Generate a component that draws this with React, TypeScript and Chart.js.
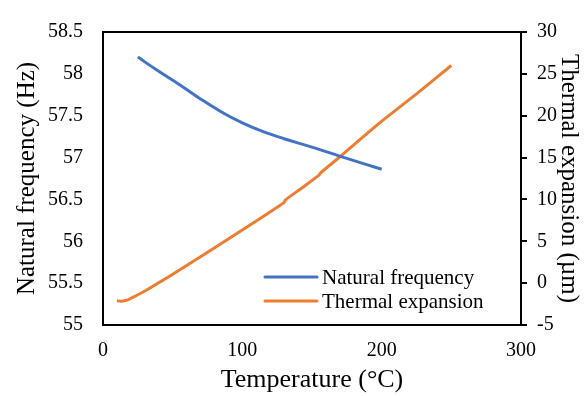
import React, { useEffect, useRef } from "react";
import { Chart, registerables } from "chart.js";

Chart.register(...registerables);

const freqTemps = [25, 40, 55, 70, 85, 100, 115, 130, 150, 175, 200];
const freqValues = [58.2, 58.03, 57.87, 57.7, 57.545, 57.415, 57.31, 57.225, 57.125, 56.99, 56.86];

const expTemps = [10, 13, 16, 19, 22, 26, 31, 38, 46, 70, 93, 118, 130, 131, 143, 155, 156, 169, 199, 225, 250];
const expValues = [-2.1, -2.15, -2.08, -1.9, -1.65, -1.3, -0.85, -0.15, 0.65, 3.15, 5.6, 8.3, 9.65, 9.95, 11.4, 12.9, 13.15, 14.95, 19.2, 22.6, 26.0];

const xTicks = [0, 100, 200, 300];
const leftTicks = [55, 55.5, 56, 56.5, 57, 57.5, 58, 58.5];
const rightTicks = [-5, 0, 5, 10, 15, 20, 25, 30];

const FONT = "'Liberation Serif', 'Times New Roman', serif";
const BLUE = "#4472C4";
const ORANGE = "#ED7D31";

const frame = {
  id: "frame",
  afterDatasetsDraw(chart: any) {
    const { ctx, chartArea } = chart;
    ctx.save();
    ctx.strokeStyle = "#000";
    ctx.lineWidth = 2;
    ctx.strokeRect(chartArea.left, chartArea.top, chartArea.right - chartArea.left, chartArea.bottom - chartArea.top);
    ctx.restore();
  },
};

const legendInside = {
  id: "legendInside",
  afterDraw(chart: any) {
    const { ctx } = chart;
    const rows = [277, 301];
    ctx.save();
    ctx.font = `21px ${FONT}`;
    ctx.textBaseline = "middle";
    ctx.textAlign = "left";
    chart.data.datasets.forEach((ds: any, i: number) => {
      const y = rows[i];
      ctx.strokeStyle = ds.borderColor;
      ctx.lineWidth = 3;
      ctx.lineCap = "round";
      ctx.beginPath();
      ctx.moveTo(265, y);
      ctx.lineTo(317, y);
      ctx.stroke();
      ctx.fillStyle = "#000";
      ctx.fillText(ds.label, 322, y + 1);
    });
    ctx.restore();
  },
};

const fmt = (v: any) => String(v);

export default function App() {
  const ref = useRef<HTMLCanvasElement>(null);
  useEffect(() => {
    document.body.style.margin = "0";
    const c = new Chart(ref.current!, {
      type: "line",
      data: {
        datasets: [
          {
            label: "Natural frequency",
            data: freqTemps.map((t, i) => ({ x: t, y: freqValues[i] })),
            borderColor: BLUE,
            backgroundColor: BLUE,
            borderWidth: 3,
            pointRadius: 0,
            tension: 0.4,
            yAxisID: "y",
          },
          {
            label: "Thermal expansion",
            data: expTemps.map((t, i) => ({ x: t, y: expValues[i] })),
            borderColor: ORANGE,
            backgroundColor: ORANGE,
            borderWidth: 3,
            pointRadius: 0,
            tension: 0.3,
            yAxisID: "y2",
          },
        ],
      },
      options: {
        responsive: false,
        animation: false,
        layout: { padding: { top: 21, left: 0, right: 0, bottom: 0 } },
        plugins: { legend: { display: false }, tooltip: { enabled: false } },
        scales: {
          x: {
            type: "linear",
            min: 0,
            max: 300,
            afterBuildTicks: (s: any) => { s.ticks = xTicks.map((v) => ({ value: v })); },
            afterFit: (s: any) => { s.height = 71; },
            grid: { display: false, drawTicks: false },
            border: { display: true, color: "#000", width: 2 },
            ticks: { color: "#000", font: { family: FONT, size: 20 }, padding: 14, maxRotation: 0, callback: fmt },
            title: {
              display: true,
              text: "Temperature (°C)",
              color: "#000",
              font: { family: FONT, size: 26 },
              padding: { top: 0, bottom: 0 },
            },
          },
          y: {
            position: "left",
            min: 55,
            max: 58.5,
            afterBuildTicks: (s: any) => { s.ticks = leftTicks.map((v) => ({ value: v })); },
            afterFit: (s: any) => { s.width = 103; },
            grid: { display: false, drawTicks: false },
            border: { display: true, color: "#000", width: 2 },
            ticks: { color: "#000", font: { family: FONT, size: 20 }, padding: 20, callback: fmt },
            title: {
              display: true,
              text: "Natural frequency (Hz)",
              color: "#000",
              font: { family: FONT, size: 25 },
              padding: { top: 12, bottom: 0 },
            },
          },
          y2: {
            position: "right",
            min: -5,
            max: 30,
            afterBuildTicks: (s: any) => { s.ticks = rightTicks.map((v) => ({ value: v })); },
            afterFit: (s: any) => { s.width = 63; },
            grid: { display: true, drawOnChartArea: false, drawTicks: true, tickLength: 6, color: "#000", lineWidth: 2 },
            border: { display: true, color: "#000", width: 2 },
            ticks: { color: "#000", font: { family: FONT, size: 20 }, padding: 10, callback: fmt },
            title: {
              display: true,
              text: "Thermal expansion (µm)",
              color: "#000",
              font: { family: FONT, size: 25 },
              padding: { top: 0, bottom: 0 },
            },
          },
        },
      },
      plugins: [frame, legendInside],
    } as any);
    return () => c.destroy();
  }, []);
  return <canvas ref={ref} width={584} height={396} style={{ display: "block" }} />;
}
